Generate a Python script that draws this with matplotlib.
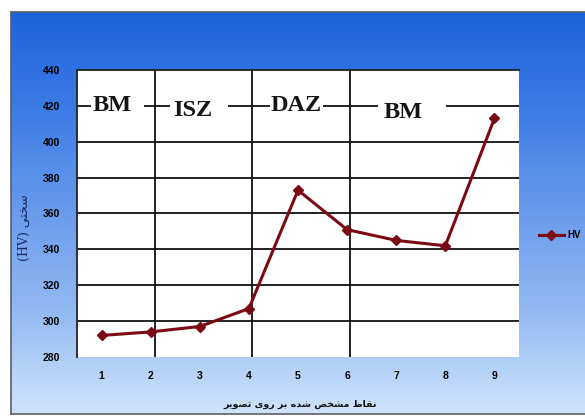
import numpy as np
import matplotlib
matplotlib.use("Agg")
import matplotlib.pyplot as plt
from matplotlib.colors import LinearSegmentedColormap

# ---------------- data ----------------
points = [1, 2, 3, 4, 5, 6, 7, 8, 9]
hv = [292, 294, 297, 307, 373, 351, 345, 342, 413]
y_ticks = [280, 300, 320, 340, 360, 380, 400, 420, 440]
zone_bounds = [2.08, 4.06, 6.05]
zone_labels = ["BM", "ISZ", "DAZ", "BM"]
zone_label_x = [1.21, 2.86, 4.97, 7.15]
zone_label_y = [420, 417.5, 420, 416.5]
# 420 grid line is interrupted by the zone labels
grid420_segments = [(0.5, 0.79), (1.87, 2.40), (3.57, 4.42), (5.51, 6.62), (8.02, 9.5)]
x_label = "نقاط مشخص شده بر روی تصویر"
y_label_fa = "سختی"
legend_label = "HV"

# ---------------- simple Persian shaping ----------------
FORMS = {
    'ا': ('\uFE8D', '\uFE8E', None, None),
    'ب': ('\uFE8F', '\uFE90', '\uFE91', '\uFE92'),
    'ت': ('\uFE95', '\uFE96', '\uFE97', '\uFE98'),
    'خ': ('\uFEA5', '\uFEA6', '\uFEA7', '\uFEA8'),
    'د': ('\uFEA9', '\uFEAA', None, None),
    'ر': ('\uFEAD', '\uFEAE', None, None),
    'س': ('\uFEB1', '\uFEB2', '\uFEB3', '\uFEB4'),
    'ش': ('\uFEB5', '\uFEB6', '\uFEB7', '\uFEB8'),
    'ص': ('\uFEB9', '\uFEBA', '\uFEBB', '\uFEBC'),
    'ط': ('\uFEC1', '\uFEC2', '\uFEC3', '\uFEC4'),
    'ق': ('\uFED5', '\uFED6', '\uFED7', '\uFED8'),
    'م': ('\uFEE1', '\uFEE2', '\uFEE3', '\uFEE4'),
    'ن': ('\uFEE5', '\uFEE6', '\uFEE7', '\uFEE8'),
    'ه': ('\uFEE9', '\uFEEA', '\uFEEB', '\uFEEC'),
    'و': ('\uFEED', '\uFEEE', None, None),
    'ی': ('\uFBFC', '\uFBFD', '\uFBFE', '\uFBFF'),
}


def rtl(text):
    out = []
    n = len(text)
    for i, ch in enumerate(text):
        if ch not in FORMS:
            out.append(ch)
            continue
        prev = i > 0 and text[i - 1] in FORMS and FORMS[text[i - 1]][2] is not None
        nxt = i < n - 1 and text[i + 1] in FORMS and FORMS[ch][2] is not None
        iso, fin, ini, med = FORMS[ch]
        if prev and nxt:
            out.append(med)
        elif prev:
            out.append(fin)
        elif nxt:
            out.append(ini)
        else:
            out.append(iso)
    return "".join(reversed(out))


# ---------------- figure ----------------
W, H = 585, 417
fig = plt.figure(figsize=(W / 100, H / 100), dpi=100)
fig.patch.set_facecolor("white")

# gradient background panel
bg = fig.add_axes([11 / W, 3 / H, 574 / W, 402 / H])
cmap = LinearSegmentedColormap.from_list(
    "bg", ["#1c62dc", "#3d7de6", "#6a9bec", "#94baf3", "#cfe4fb"])
grad = np.linspace(0, 1, 256).reshape(-1, 1)
bg.imshow(grad, aspect="auto", cmap=cmap, extent=[0, 1, 0, 1], origin="upper")
bg.set_xticks([])
bg.set_yticks([])
for side in ["left", "top", "bottom"]:
    bg.spines[side].set_color("#5a5f66")
    bg.spines[side].set_linewidth(1.2)
bg.spines["right"].set_visible(False)

# main axes
ax = fig.add_axes([77 / W, 60 / H, 442 / W, 287 / H])
ax.set_facecolor("white")
ax.set_xlim(0.5, 9.5)
ax.set_ylim(280, 440)

for yv in y_ticks[1:-2]:
    ax.axhline(yv, color="#111111", lw=1.3, zorder=1)
for (x0, x1) in grid420_segments:
    ax.hlines(420, x0, x1, color="#111111", lw=1.3, zorder=1)
for xb in zone_bounds:
    ax.axvline(xb, color="#111111", lw=1.3, zorder=1)

for lab, lx, ly in zip(zone_labels, zone_label_x, zone_label_y):
    ax.text(lx, ly, lab, ha="center", va="center", fontsize=17.5,
            fontweight="bold", family="Liberation Serif", color="#151515",
            zorder=3)

line, = ax.plot(points, hv, color="#7b0a14", lw=2.2, marker="D", markersize=5,
                zorder=4, label=legend_label)

ax.set_xticks(points)
ax.set_yticks(y_ticks)
ax.tick_params(length=0, labelsize=7.5)
ax.tick_params(axis="y", pad=12)
ax.tick_params(axis="x", pad=10)
for t in ax.get_xticklabels() + ax.get_yticklabels():
    t.set_fontweight("bold")
    t.set_family("Liberation Sans")

for side in ["right", "bottom"]:
    ax.spines[side].set_visible(False)
for side in ["left", "top"]:
    ax.spines[side].set_color("#222222")
    ax.spines[side].set_linewidth(1.3)

ax.set_xlabel(rtl(x_label), fontsize=6.8, fontweight="bold",
              family=["DejaVu Sans"], color="#111111")
ax.xaxis.set_label_coords(0.505, -0.15)
ax.set_ylabel("(HV) " + rtl(y_label_fa), fontsize=9,
              family=["DejaVu Serif", "DejaVu Sans"], color="#1b2a66")
ax.yaxis.set_label_coords(-0.105, 0.45)

leg = fig.legend(handles=[line], loc="center left",
                 bbox_to_anchor=(530 / W, 1 - 235 / H), frameon=False,
                 handlelength=2.6, handletextpad=0.3,
                 prop={"size": 7, "weight": "bold", "family": "Liberation Sans"})

fig.savefig("out.png", dpi=100)
